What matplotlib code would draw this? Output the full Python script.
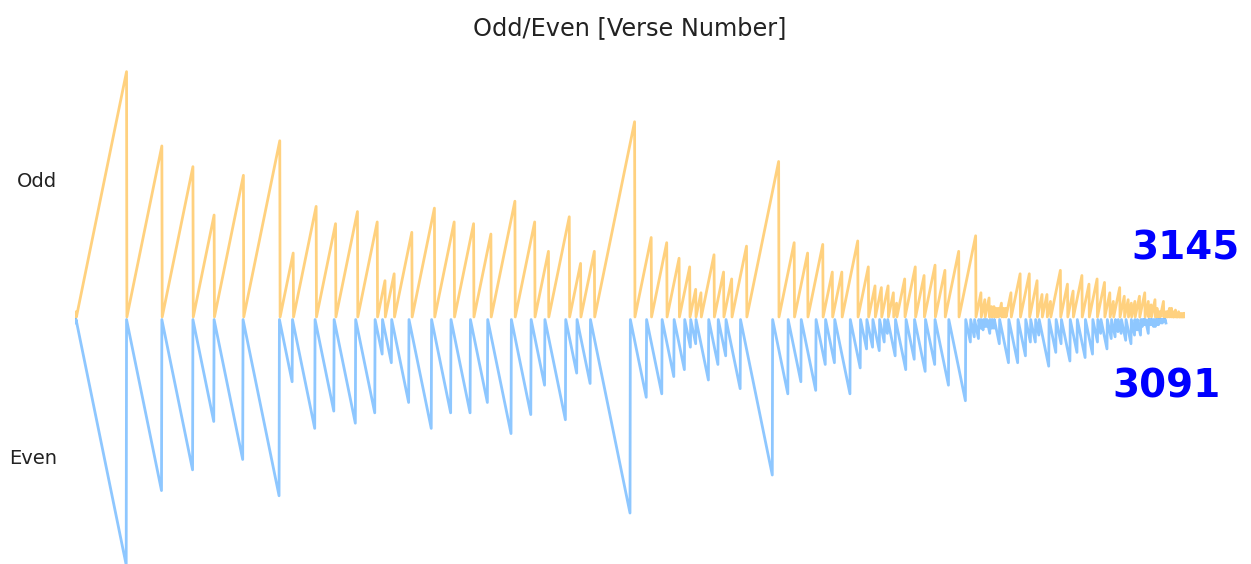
import matplotlib.pyplot as plt

# verses per chapter (114 chapters)
verse_counts = [7, 286, 200, 176, 120, 165, 206, 75, 129, 109, 123, 111, 43, 52, 99, 128,
                111, 110, 98, 135, 112, 78, 118, 64, 77, 227, 93, 88, 69, 60, 34, 30, 73,
                54, 45, 83, 182, 88, 75, 85, 54, 53, 89, 59, 37, 35, 38, 29, 18, 45, 60,
                49, 62, 55, 78, 96, 29, 22, 24, 13, 14, 11, 11, 18, 12, 12, 30, 52, 52,
                44, 28, 28, 20, 56, 40, 31, 50, 40, 46, 42, 29, 19, 36, 25, 22, 17, 19,
                26, 30, 20, 15, 21, 11, 8, 8, 19, 5, 8, 8, 11, 11, 8, 3, 9, 5, 4, 7, 3,
                6, 3, 5, 4, 5, 6]
row_labels = ['Odd', 'Even']
title = 'Odd/Even [Verse Number]'

odd_verses = [v for n in verse_counts for v in range(1, n + 1) if v % 2 == 1]
even_verses = [-v for n in verse_counts for v in range(1, n + 1) if v % 2 == 0]

W, H = 1251, 564
fig = plt.figure(figsize=(W / 100, H / 100), dpi=100)
ax = fig.add_axes([75 / W, 0, 1110 / W, (H - 44) / H])

ax.plot(range(len(odd_verses)), odd_verses, color='orange', alpha=0.5, lw=2)
ax.plot(range(len(even_verses)), even_verses, color='dodgerblue', alpha=0.5, lw=2)

ax.text(len(odd_verses), 80, str(len(odd_verses)), color='blue', fontsize=28,
        fontweight='bold', ha='center', va='center', clip_on=False)
ax.text(len(even_verses), -80, str(len(even_verses)), color='blue', fontsize=28,
        fontweight='bold', ha='center', va='center', clip_on=False)

ax.set_xlim(0, len(odd_verses) - 1)
ax.set_ylim(-285, 317)
ax.set_xticks([])
ax.set_yticks([160, -160])
ax.set_yticklabels(row_labels, fontsize=14, color='#222222')
ax.tick_params(axis='y', length=0, pad=13)
for s in ax.spines.values():
    s.set_visible(False)
ax.set_title(title, fontsize=17.3, pad=6.5, color='#222222')

fig.savefig('out.png', dpi=100)
